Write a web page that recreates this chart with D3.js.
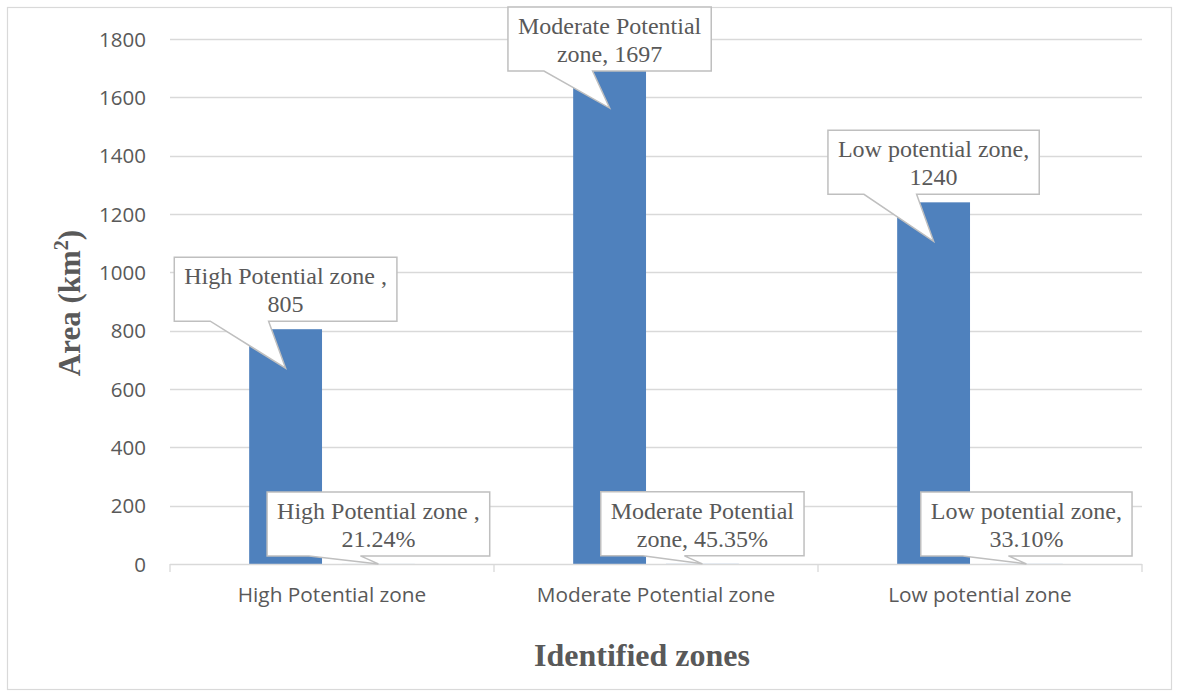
<!DOCTYPE html>
<html>
<head>
<meta charset="utf-8">
<script src="https://cdn.jsdelivr.net/npm/d3@7/dist/d3.min.js"></script>
<style>
  html, body { margin: 0; padding: 0; background: #fff; }
  svg { display: block; }
</style>
</head>
<body>
<svg id="chart" width="1182" height="696"></svg>
<script>
// ---- data ----
const categories = ["High Potential zone", "Moderate Potential zone", "Low potential zone"];
const seriesNames = ["Area", "Percent"];
const areaValues = [805, 1697, 1240];
const percentValues = [0.2124, 0.4535, 0.3310];
const yTicks = [0, 200, 400, 600, 800, 1000, 1200, 1400, 1600, 1800];
const areaLabelLines = [["High Potential zone ,", "805"], ["Moderate Potential", "zone, 1697"], ["Low potential zone,", "1240"]];
const percentLabelLines = [["High Potential zone ,", "21.24%"], ["Moderate Potential", "zone, 45.35%"], ["Low potential zone,", "33.10%"]];
const yTitle = "Area (km";
const xTitle = "Identified zones";

// ---- layout ----
const svg = d3.select("#chart");
const plot = { left: 170, right: 1142, top: 39, bottom: 564 };
const textColor = "#595959";
const gridColor = "#D9D9D9";
const barColor = "#4F81BD";
const calloutStroke = "#BFBFBF";

svg.append("rect").attr("x", 7.5).attr("y", 7.5).attr("width", 1164).attr("height", 682)
  .attr("fill", "#fff").attr("stroke", gridColor).attr("stroke-width", 1.2);

const y = d3.scaleLinear().domain([0, 1800]).range([plot.bottom, plot.top]);
const x0 = d3.scaleBand().domain(categories).range([plot.left, plot.right]).paddingInner(0).paddingOuter(0);
const x1 = d3.scaleBand().domain(seriesNames).range([0, x0.bandwidth()]).paddingInner(0.215).paddingOuter(0.853);

// gridlines
svg.append("g").selectAll("line").data(yTicks.filter(d => d > 0)).join("line")
  .attr("x1", plot.left).attr("x2", plot.right)
  .attr("y1", d => Math.round(y(d)) + 0.5).attr("y2", d => Math.round(y(d)) + 0.5)
  .attr("stroke", gridColor).attr("stroke-width", 1.3);

// y axis labels
const yAxis = d3.axisLeft(y).tickValues(yTicks).tickSize(0).tickPadding(0).tickFormat(d3.format("d"));
const gy = svg.append("g").attr("transform", `translate(${plot.left - 24},0)`).call(yAxis);
gy.select(".domain").remove();
gy.selectAll("text").attr("fill", textColor).attr("font-family", "'Open Sans', sans-serif").attr("font-size", 20.5).attr("dy", "0.35em");

// bars
const groups = svg.append("g").selectAll("g").data(categories).join("g")
  .attr("transform", d => `translate(${x0(d)},0)`);
groups.append("rect")
  .attr("x", x1("Area")).attr("width", x1.bandwidth())
  .attr("y", (d, i) => y(areaValues[i])).attr("height", (d, i) => y(0) - y(areaValues[i]))
  .attr("fill", barColor);
groups.append("rect")
  .attr("x", x1("Percent")).attr("width", x1.bandwidth())
  .attr("y", (d, i) => y(percentValues[i])).attr("height", (d, i) => y(0) - y(percentValues[i]))
  .attr("fill", barColor);

// x axis
const xAxis = d3.axisBottom(x0).tickSize(0).tickPadding(0);
const gx = svg.append("g").attr("transform", `translate(0,${plot.bottom})`).call(xAxis);
gx.select(".domain").remove();
gx.selectAll("text").attr("fill", textColor).attr("font-family", "'Open Sans', sans-serif").attr("font-size", 20.8).attr("dy", "1.85em");
svg.append("line").attr("x1", plot.left).attr("x2", plot.right).attr("y1", plot.bottom + 0.5).attr("y2", plot.bottom + 0.5)
  .attr("stroke", gridColor).attr("stroke-width", 1.3);
const boundaries = categories.map(c => x0(c)).concat([x0(categories[categories.length - 1]) + x0.bandwidth()]);
svg.append("g").selectAll("line").data(boundaries).join("line")
  .attr("x1", d => d).attr("x2", d => d).attr("y1", plot.bottom).attr("y2", plot.bottom + 8)
  .attr("stroke", gridColor).attr("stroke-width", 1.3);

// axis titles
const yt = svg.append("text").attr("transform", `translate(80,303) rotate(-90)`)
  .attr("text-anchor", "middle").attr("fill", textColor)
  .attr("font-family", "'Liberation Serif', 'Times New Roman', serif").attr("font-weight", "bold").attr("font-size", 31);
yt.append("tspan").text(yTitle);
yt.append("tspan").attr("font-size", 20).attr("dy", -12).text("2");
yt.append("tspan").attr("dy", 12).text(")");

svg.append("text").attr("x", 642).attr("y", 666).attr("text-anchor", "middle").attr("fill", textColor)
  .attr("font-family", "'Liberation Serif', 'Times New Roman', serif").attr("font-weight", "bold").attr("font-size", 32)
  .text(xTitle);

// callouts
const calloutLayer = svg.append("g");
function callout(lines, cx, top, tip, baseLeftOff, baseRightOffFromCenter) {
  const g = calloutLayer.append("g");
  const texts = lines.map((ln, k) => g.append("text")
    .attr("x", cx).attr("y", top + 27 + k * 28)
    .attr("text-anchor", "middle").attr("fill", textColor)
    .attr("font-family", "'Liberation Serif', 'Times New Roman', serif").attr("font-size", 24)
    .text(ln));
  const tw = d3.max(texts, t => t.node().getComputedTextLength());
  const bw = tw + 20, bh = 64;
  const left = cx - bw / 2, right = cx + bw / 2, bottom = top + bh;
  const bl = left + baseLeftOff, br = cx + baseRightOffFromCenter;
  const p = d3.path();
  p.moveTo(left, top); p.lineTo(right, top); p.lineTo(right, bottom);
  p.lineTo(br, bottom); p.lineTo(tip[0], tip[1]); p.lineTo(bl, bottom);
  p.lineTo(left, bottom); p.closePath();
  g.insert("path", "text").attr("d", p.toString()).attr("fill", "#fff")
    .attr("stroke", calloutStroke).attr("stroke-width", 1.5);
}

categories.forEach((c, i) => {
  const cx = x0(c) + x1("Area") + x1.bandwidth() / 2;
  const barTop = y(areaValues[i]);
  const top = Math.max(7, barTop - 8 - 64);
  callout(areaLabelLines[i], cx, top, [cx, barTop + 39], 36, -17);
});
categories.forEach((c, i) => {
  const cx = x0(c) + x1("Percent") + x1.bandwidth() / 2;
  const barTop = y(percentValues[i]);
  const top = barTop - 8 - 64;
  callout(percentLabelLines[i], cx, top, [cx, barTop], 42, -18);
});
</script>
</body>
</html>
